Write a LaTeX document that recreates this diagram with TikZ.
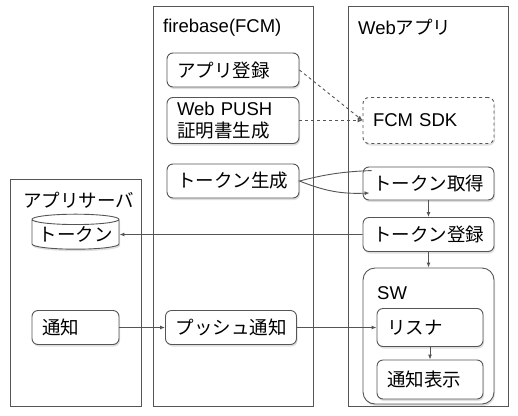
\documentclass[tikz,border=0pt]{standalone}
\usepackage{fontspec}
\setmainfont{Liberation Sans}
\newfontfamily\jp{Noto Sans CJK JP}
\usetikzlibrary{positioning,shapes.geometric,shadows,arrows.meta,calc}

\definecolor{linegray}{HTML}{555555}

\tikzset{
  lane/.style={draw=linegray, line width=1pt},
  lanetitle/.style={anchor=west, inner sep=0pt},
  card/.style={draw=linegray, line width=0.9pt, fill=white, rounded corners=6pt, align=left,
    inner xsep=10pt, inner ysep=0pt, minimum height=34pt,
    drop shadow={opacity=0.25, shadow xshift=1pt, shadow yshift=-2pt}},
  flow/.style={draw=linegray, line width=0.9pt, -{Latex[length=5pt,width=4pt]}},
  every node/.style={font=\fontsize{18.5}{22}\selectfont},
}

\begin{document}
\begin{tikzpicture}[x=1pt, y=-1pt]
    \useasboundingbox (0,0) rectangle (518,415);

    % lanes
    \draw[lane] (10.5,179.5) rectangle (141.5,406.5);
    \draw[lane] (153.5,6.5) rectangle (313.5,406.5);
    \draw[lane] (348.5,6.5) rectangle (508.5,406.5);
    \node[lanetitle] (srvtitle) at (23,200) {\jp アプリサーバ};
    \node[lanetitle] (fbtitle) at (163,28) {firebase(FCM)};
    \node[lanetitle] (webtitle) at (358,27) {Web{\jp アプリ}};

    % firebase
    \node[card, text width=112pt] (appreg) at (233,70) {\jp アプリ登録};
    \node[card, text width=112pt, minimum height=46pt] (cert) at (233,120.5) {Web PUSH\\{\jp 証明書生成}};
    \node[card, text width=112pt] (tokgen) at (233,181) {\jp トークン生成};
    \node[card, text width=111pt] (push) at (231,327.5) {\jp プッシュ通知};

    % app server
    \node[cylinder, shape border rotate=90, aspect=0.14, draw=linegray, line width=0.9pt, fill=white,
      minimum width=87pt, minimum height=35pt, inner sep=0pt,
      drop shadow={opacity=0.25, shadow xshift=1pt, shadow yshift=-2pt}] (db) at (75.5,234.5) {\raisebox{-3pt}{\jp トークン}};
    \node[card, text width=67pt] (notify) at (75.5,327.5) {\jp 通知};

    % web app
    \node[card, dashed, text width=111pt, minimum height=46pt] (sdk) at (428.5,120.5) {FCM SDK};
    \node[card, text width=111pt, minimum height=33pt] (tokget) at (428.5,183.5) {\jp トークン取得};
    \node[card, text width=111pt] (tokreg) at (428.5,234.5) {\jp トークン登録};
    \node[card, rounded corners=12pt, text width=111pt, minimum height=136pt] (sw) at (428.5,336) {};
    \node[lanetitle] (swtitle) at (377,293) {SW};
    \node[card, text width=86pt, minimum height=38pt] (listen) at (430,327.5) {\jp リスナ};
    \node[card, text width=86pt, minimum height=39pt] (show) at (430,379.5) {\jp 通知表示};

    % connectors
    \draw[flow, dashed] (appreg.east) -- (sdk.west);
    \draw[flow, dashed] (cert.east) -- (sdk.west);
    \coordinate (getin) at ($(tokget.north west)+(9,4)$);
    \coordinate (getout) at ($(tokget.west)+(7,9.5)$);
    \draw[flow] (getin) to[bend right=6] (tokgen.east) to[bend right=12] (getout);
    \draw[flow] (tokget.south) -- (tokreg.north);
    \draw[flow] (tokreg.west) -- (db.east);
    \draw[flow] (tokreg.south) -- (sw.north);
    \draw[flow] (notify.east) -- (push.west);
    \draw[flow] (push.east) -- (listen.west);
    \draw[flow] (listen.south) -- (show.north);
\end{tikzpicture}
\end{document}
